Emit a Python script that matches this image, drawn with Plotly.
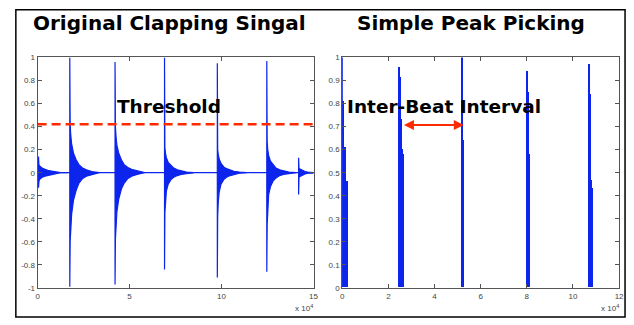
import plotly.graph_objects as go

# ---------------- data (x in units of 10^4 samples) ----------------
clap_onsets = [0.05, 1.75, 4.21, 6.90, 9.77, 12.46, 14.19]
env_offsets = [0.0, 0.02, 0.05, 0.10, 0.20, 0.35, 0.50, 0.70, 0.90, 1.20, 1.60]
clap_upper = [
    [0.14, 0.07, 0.06, 0.05, 0.04, 0.03, 0.02, 0.015, 0.01, 0.0, 0.0],
    [1.00, 0.42, 0.33, 0.25, 0.17, 0.11, 0.07, 0.04, 0.025, 0.01, 0.0],
    [0.96, 0.40, 0.32, 0.24, 0.17, 0.11, 0.07, 0.045, 0.03, 0.015, 0.0],
    [1.00, 0.22, 0.17, 0.13, 0.09, 0.06, 0.04, 0.025, 0.015, 0.005, 0.0],
    [0.95, 0.20, 0.16, 0.12, 0.08, 0.05, 0.035, 0.02, 0.012, 0.005, 0.0],
    [0.97, 0.27, 0.20, 0.15, 0.10, 0.065, 0.04, 0.025, 0.015, 0.005, 0.0],
    [0.13, 0.04, 0.035, 0.03, 0.02, 0.01, 0.005, 0.0, 0.0, 0.0, 0.0],
]
clap_lower = [
    [-0.13, -0.08, -0.06, -0.05, -0.04, -0.03, -0.02, -0.015, -0.01, 0.0, 0.0],
    [-0.99, -0.60, -0.50, -0.36, -0.24, -0.15, -0.09, -0.05, -0.03, -0.015, 0.0],
    [-0.97, -0.58, -0.48, -0.34, -0.23, -0.14, -0.09, -0.05, -0.03, -0.015, 0.0],
    [-0.84, -0.35, -0.24, -0.16, -0.10, -0.06, -0.04, -0.025, -0.015, -0.005, 0.0],
    [-0.91, -0.38, -0.26, -0.17, -0.10, -0.06, -0.04, -0.025, -0.015, -0.005, 0.0],
    [-0.86, -0.45, -0.30, -0.19, -0.12, -0.07, -0.045, -0.025, -0.015, -0.005, 0.0],
    [-0.19, -0.04, -0.035, -0.03, -0.02, -0.01, -0.005, 0.0, 0.0, 0.0, 0.0],
]
signal_span = [0, 15]
threshold = 0.42

pick_x = [0.00, 0.05, 0.10, 0.15, 0.20,
          2.49, 2.53, 2.57, 2.61, 2.65,
          5.19, 5.23,
          8.02, 8.06, 8.10,
          10.70, 10.74, 10.78, 10.82]
pick_y = [1.00, 0.81, 0.61, 0.61, 0.46,
          0.955, 0.915, 0.73, 0.60, 0.58,
          1.00, 0.64,
          0.94, 0.85, 0.58,
          0.97, 0.84, 0.465, 0.43]
interval_start = 2.61
interval_end = 5.27
interval_level = 0.707

left_xticks = [0, 5, 10, 15]
left_yticks = [-1, -0.8, -0.6, -0.4, -0.2, 0, 0.2, 0.4, 0.6, 0.8, 1]
right_xticks = [0, 2, 4, 6, 8, 10, 12]
right_yticks = [0, 0.1, 0.2, 0.3, 0.4, 0.5, 0.6, 0.7, 0.8, 0.9, 1]

BLUE = "rgb(12,36,235)"
RED = "#ff2a00"
W, H = 634, 325

fig = go.Figure()

# baseline of the signal
fig.add_trace(go.Scatter(x=signal_span, y=[0, 0], mode="lines",
                         line=dict(color=BLUE, width=1.2), xaxis="x", yaxis="y",
                         hoverinfo="skip", showlegend=False))

for t, up, lo in zip(clap_onsets, clap_upper, clap_lower):
    xs = [t] + [t + o for o in env_offsets] + [t + o for o in reversed(env_offsets)] + [t]
    ys = [0] + up + list(reversed(lo)) + [0]
    fig.add_trace(go.Scatter(x=xs, y=ys, mode="lines", fill="toself",
                             fillcolor=BLUE, line=dict(color=BLUE, width=1.2),
                             xaxis="x", yaxis="y", hoverinfo="skip", showlegend=False))

fig.add_trace(go.Bar(x=pick_x, y=pick_y, width=0.05, marker=dict(color=BLUE, line=dict(width=0)),
                     xaxis="x2", yaxis="y2", showlegend=False))

ax_common = dict(showgrid=False, zeroline=False, showline=True, linecolor="#555",
                 linewidth=1, mirror="allticks", ticks="inside", ticklen=4,
                 tickcolor="#555", tickfont=dict(family="Liberation Sans, Arial", size=8, color="#444"))

ydom = [1 - 292 / H, 1 - 55 / H]
fig.update_layout(
    width=W, height=H, margin=dict(l=0, r=0, t=0, b=0),
    paper_bgcolor="white", plot_bgcolor="white", bargap=0,
    xaxis=dict(domain=[36 / W, 315 / W], range=[0, 15], tickvals=left_xticks,
               ticktext=[str(v) for v in left_xticks], anchor="y", **ax_common),
    yaxis=dict(domain=ydom, range=[-1, 1], tickvals=left_yticks,
               ticktext=[("%g" % v) for v in left_yticks], anchor="x", **ax_common),
    xaxis2=dict(domain=[344 / W, 624 / W], range=[0, 12], tickvals=right_xticks,
                ticktext=[str(v) for v in right_xticks], anchor="y2", **ax_common),
    yaxis2=dict(domain=ydom, range=[0, 1], tickvals=right_yticks,
                ticktext=[("%g" % v) for v in right_yticks], anchor="x2", **ax_common),
)

fig.add_shape(type="line", xref="x", yref="y", x0=signal_span[0], x1=signal_span[1],
              y0=threshold, y1=threshold, line=dict(color=RED, width=2.5, dash="9px,5px"))

# outer frame
fig.add_shape(type="rect", xref="paper", yref="paper", x0=14 / W, x1=630 / W,
              y0=1 - 322 / H, y1=1 - 6 / H, line=dict(color="black", width=1.5))

TF = dict(family="DejaVu Sans", size=20, color="black")
LF = dict(family="DejaVu Sans", size=18.5, color="black")

def label(text, xpx, ypx, font):
    fig.add_annotation(text=text, xref="paper", yref="paper", x=xpx / W, y=1 - ypx / H,
                       xanchor="center", yanchor="middle", showarrow=False, font=font)

label("<b>Original Clapping Singal</b>", 169, 20, TF)
label("<b>Simple Peak Picking</b>", 474, 20, TF)
label("<b>Threshold</b>", 169, 105, LF)
label("<b>Inter-Beat Interval</b>", 446.5, 105, LF)

SF = dict(family="Liberation Sans, Arial", size=8, color="#444")
label("x 10<sup>4</sup>", 305, 313, SF)
label("x 10<sup>4</sup>", 615, 313, SF)

fig.add_annotation(x=interval_end, y=interval_level, ax=interval_start, ay=interval_level,
                   xref="x2", yref="y2", axref="x2", ayref="y2", text="", showarrow=True,
                   arrowhead=2, startarrowhead=2, arrowside="end+start", arrowsize=1,
                   startarrowsize=1, arrowwidth=2, arrowcolor=RED)

fig.write_html("out.html", config={"displayModeBar": False},
               post_script="document.body.style.margin='0';document.body.style.overflow='hidden';")
